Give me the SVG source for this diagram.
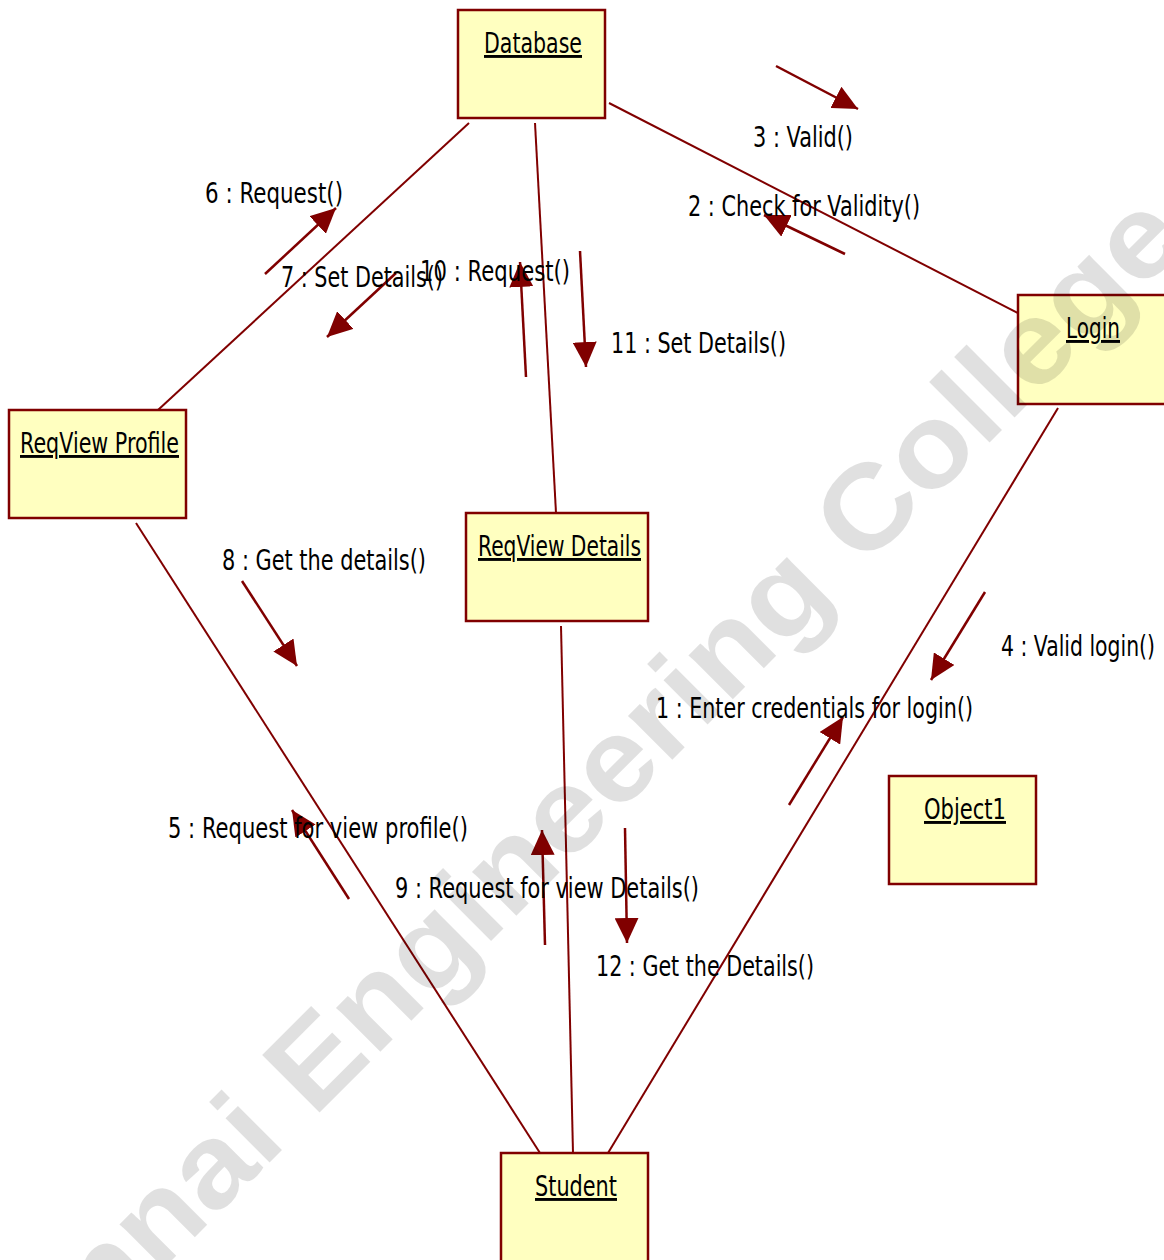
<svg xmlns="http://www.w3.org/2000/svg" width="1164" height="1260" viewBox="0 0 1164 1260">
  <style>
    .node rect { fill: #ffffc0; stroke: #800000; stroke-width: 2.5; }
    .node text { font-family: "DejaVu Sans", "Liberation Sans", sans-serif; font-size: 29px; fill: #000; text-decoration: underline; }
    .link { stroke: #800000; stroke-width: 2; fill: none; }
    .msg { stroke: #800000; stroke-width: 2.5; fill: none; marker-end: url(#head); }
    .label { font-family: "DejaVu Sans", "Liberation Sans", sans-serif; font-size: 29px; fill: #000; }
    .mark { font-family: "Liberation Sans", Arial, sans-serif; font-weight: bold; font-size: 118px; fill: #000; fill-opacity: 0.12; }
  </style>
  <defs>
    <marker id="head" markerUnits="userSpaceOnUse" markerWidth="26" markerHeight="24" viewBox="0 0 26 24" refX="25" refY="12" orient="auto">
      <path d="M0,0 L25,12 L0,24 Z" fill="#800000"/>
    </marker>
  </defs>

  <rect x="0" y="0" width="1164" height="1260" fill="#ffffff"/>

  <!-- links between objects -->
  <g id="connectors">
    <line class="link" x1="609" y1="103" x2="1018" y2="313"/>
    <line class="link" x1="469" y1="123" x2="158" y2="410"/>
    <line class="link" x1="535" y1="123" x2="556" y2="513"/>
    <line class="link" x1="136" y1="523" x2="540" y2="1153"/>
    <line class="link" x1="561" y1="626" x2="573" y2="1153"/>
    <line class="link" x1="1058" y1="408" x2="608" y2="1153"/>

    <!-- message arrows -->
    <line class="msg" x1="776" y1="66" x2="858" y2="109"/>
    <line class="msg" x1="845" y1="254" x2="764" y2="215"/>
    <line class="msg" x1="265" y1="274" x2="336" y2="208"/>
    <line class="msg" x1="396" y1="273" x2="327" y2="337"/>
    <line class="msg" x1="526" y1="377" x2="520" y2="262"/>
    <line class="msg" x1="580" y1="251" x2="586" y2="367"/>
    <line class="msg" x1="242" y1="581" x2="297" y2="666"/>
    <line class="msg" x1="985" y1="592" x2="931" y2="680"/>
    <line class="msg" x1="789" y1="805" x2="843" y2="717"/>
    <line class="msg" x1="349" y1="899" x2="292" y2="810"/>
    <line class="msg" x1="545" y1="945" x2="542" y2="830"/>
    <line class="msg" x1="625" y1="828" x2="627" y2="943"/>
  </g>

  <!-- message labels -->
  <g id="labels">
    <text class="label" x="753" y="147" textLength="100" lengthAdjust="spacingAndGlyphs">3 : Valid()</text>
    <text class="label" x="688" y="216" textLength="232" lengthAdjust="spacingAndGlyphs">2 : Check for Validity()</text>
    <text class="label" x="205" y="203" textLength="138" lengthAdjust="spacingAndGlyphs">6 : Request()</text>
    <text class="label" x="281" y="287" textLength="162" lengthAdjust="spacingAndGlyphs">7 : Set Details()</text>
    <text class="label" x="420" y="281" textLength="150" lengthAdjust="spacingAndGlyphs">10 : Request()</text>
    <text class="label" x="611" y="353" textLength="175" lengthAdjust="spacingAndGlyphs">11 : Set Details()</text>
    <text class="label" x="222" y="570" textLength="204" lengthAdjust="spacingAndGlyphs">8 : Get the details()</text>
    <text class="label" x="1001" y="656" textLength="154" lengthAdjust="spacingAndGlyphs">4 : Valid login()</text>
    <text class="label" x="656" y="718" textLength="317" lengthAdjust="spacingAndGlyphs">1 : Enter credentials for login()</text>
    <text class="label" x="168" y="838" textLength="300" lengthAdjust="spacingAndGlyphs">5 : Request for view profile()</text>
    <text class="label" x="395" y="898" textLength="304" lengthAdjust="spacingAndGlyphs">9 : Request for view Details()</text>
    <text class="label" x="596" y="976" textLength="218" lengthAdjust="spacingAndGlyphs">12 : Get the Details()</text>
  </g>

  <!-- objects -->
  <g id="database" class="node">
    <rect x="458" y="10" width="147" height="108"/>
    <text x="484" y="53" textLength="98" lengthAdjust="spacingAndGlyphs">Database</text>
  </g>
  <g id="login" class="node">
    <rect x="1018" y="295" width="150" height="109"/>
    <text x="1066" y="338" textLength="54" lengthAdjust="spacingAndGlyphs">Login</text>
  </g>
  <g id="reqview-profile" class="node">
    <rect x="9" y="410" width="177" height="108"/>
    <text x="20" y="453" textLength="159" lengthAdjust="spacingAndGlyphs">ReqView Profile</text>
  </g>
  <g id="reqview-details" class="node">
    <rect x="466" y="513" width="182" height="108"/>
    <text x="478" y="556" textLength="163" lengthAdjust="spacingAndGlyphs">ReqView Details</text>
  </g>
  <g id="object1" class="node">
    <rect x="889" y="776" width="147" height="108"/>
    <text x="924" y="819" textLength="82" lengthAdjust="spacingAndGlyphs">Object1</text>
  </g>
  <g id="student" class="node">
    <rect x="501" y="1153" width="147" height="110"/>
    <text x="535" y="1196" textLength="82" lengthAdjust="spacingAndGlyphs">Student</text>
  </g>

  <!-- diagonal watermark -->
  <g id="watermark">
    <text class="mark" transform="translate(-69,1501) rotate(-45)" x="0" y="0" textLength="1780" lengthAdjust="spacingAndGlyphs">Chennai Engineering College</text>
  </g>
</svg>
